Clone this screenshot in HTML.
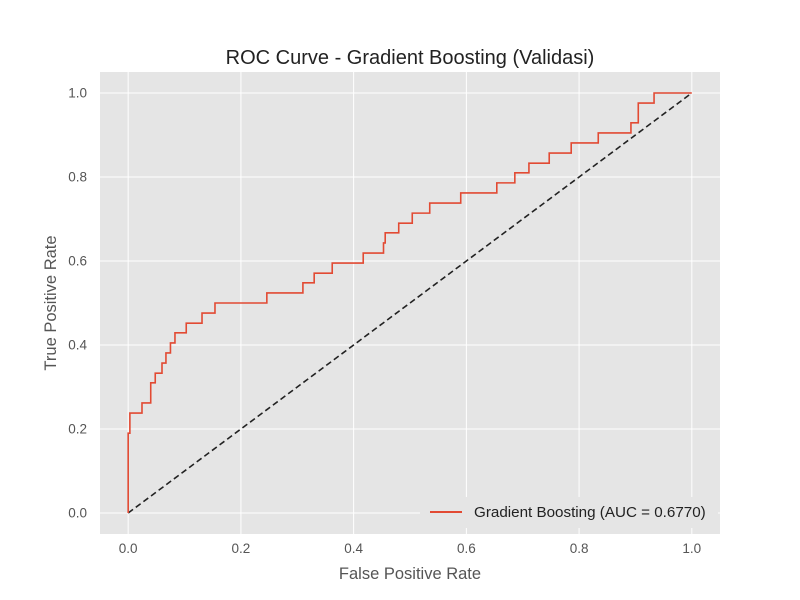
<!DOCTYPE html>
<html><head><meta charset="utf-8"><style>
html,body{margin:0;padding:0;background:#fff;}
svg{display:block;font-family:"Liberation Sans",sans-serif;}
</style></head><body>
<svg id="chart" width="800" height="600" xmlns="http://www.w3.org/2000/svg">
<rect x="0" y="0" width="800" height="600" fill="#ffffff"/>
<rect x="100" y="72" width="620" height="462" fill="#E5E5E5"/>
<g id="grid"></g>
<g id="ticks"></g>
<g id="series"></g>
<text x="410" y="64" text-anchor="middle" font-size="20" fill="#222">ROC Curve - Gradient Boosting (Validasi)</text>
<text x="410" y="579" text-anchor="middle" font-size="16.5" fill="#555">False Positive Rate</text>
<text x="56" y="303" text-anchor="middle" font-size="16.5" fill="#555" transform="rotate(-90 56 303)">True Positive Rate</text>
<g>
<rect x="420" y="497" width="298" height="31" fill="#E5E5E5"/>
<line x1="430" y1="512" x2="462" y2="512" stroke="#E24A33" stroke-width="2"/>
<text x="474" y="517" font-size="15.2" fill="#222">Gradient Boosting (AUC = 0.6770)</text>
</g>
</svg>
<script>
const fpr=[0,0.003,0.0245,0.040,0.048,0.060,0.067,0.075,0.083,0.103,0.131,0.154,0.246,0.310,0.330,0.362,0.417,0.453,0.456,0.480,0.504,0.535,0.590,0.654,0.686,0.711,0.747,0.786,0.834,0.892,0.905,0.933];
const tpr=[0.190,0.238,0.262,0.310,0.333,0.357,0.381,0.405,0.429,0.452,0.476,0.500,0.524,0.548,0.571,0.595,0.619,0.643,0.667,0.690,0.714,0.738,0.762,0.786,0.810,0.833,0.857,0.881,0.905,0.929,0.976,1.0];
const xTicks=[0,0.2,0.4,0.6,0.8,1.0];
const yTicks=[0,0.2,0.4,0.6,0.8,1.0];
const tickLabels=["0.0","0.2","0.4","0.6","0.8","1.0"];
const NS="http://www.w3.org/2000/svg";
const X=v=>100+(v+0.05)/1.1*620;
const Y=v=>534-(v+0.05)/1.1*462;
const grid=document.getElementById('grid'),ticks=document.getElementById('ticks'),series=document.getElementById('series');
function mk(tag,attrs,parent){const e=document.createElementNS(NS,tag);for(const k in attrs)e.setAttribute(k,attrs[k]);parent.appendChild(e);return e;}
xTicks.forEach((v,i)=>{
  const l=mk('line',{x1:X(v),x2:X(v),y1:72,y2:534,stroke:'#fff','stroke-width':1},grid);
  
  
  const t=mk('text',{x:X(v),y:553,'text-anchor':'middle','font-size':13.5,fill:'#555'},ticks);
  t.textContent=tickLabels[i];
  
  
});
yTicks.forEach((v,i)=>{
  const l=mk('line',{x1:100,x2:720,y1:Y(v),y2:Y(v),stroke:'#fff','stroke-width':1},grid);
  
  
  const t=mk('text',{x:87,y:Y(v)+4.5,'text-anchor':'end','font-size':13.5,fill:'#555'},ticks);
  t.textContent=tickLabels[i];
  
  
});
let d='M'+X(0)+','+Y(0);
for(let i=0;i<fpr.length;i++){d+=' H'+X(fpr[i])+' V'+Y(tpr[i]);}
d+=' H'+X(1);
const diag=mk('line',{x1:X(0),y1:Y(0),x2:X(1),y2:Y(1),stroke:'#222','stroke-width':1.6,'stroke-dasharray':'6,3.5'},series);


const p=mk('path',{d:d,fill:'none',stroke:'#E24A33','stroke-width':1.6},series);


</script>
</body></html>
